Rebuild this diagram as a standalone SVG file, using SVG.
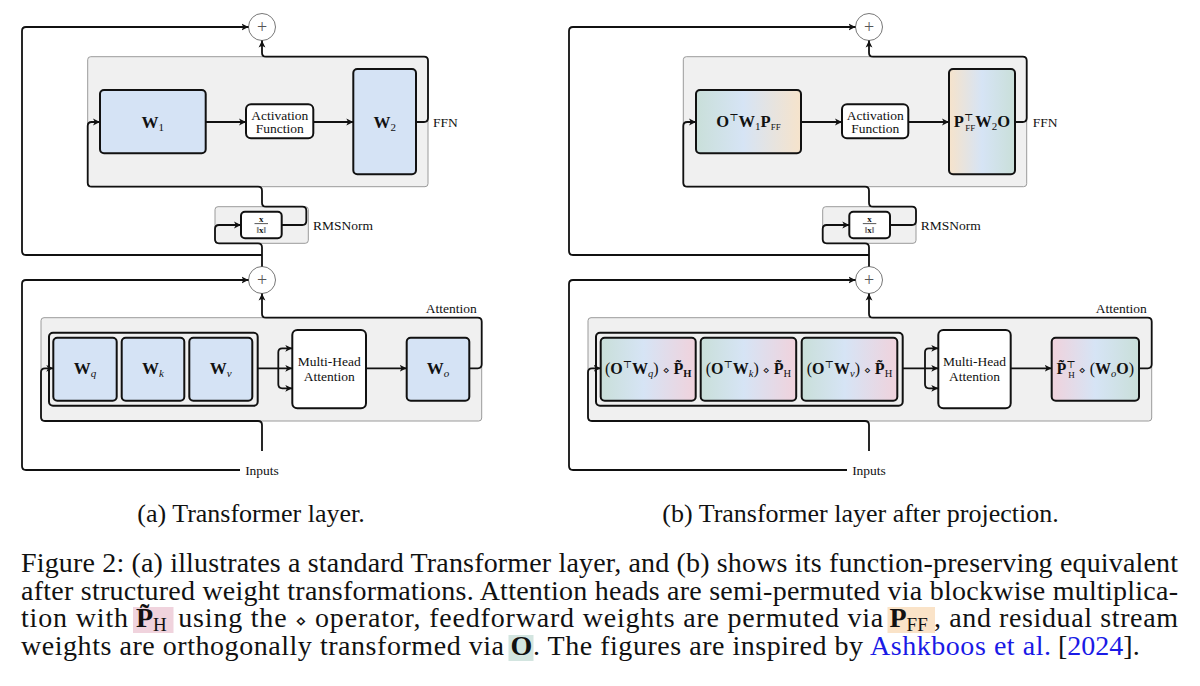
<svg xmlns="http://www.w3.org/2000/svg" width="1200" height="686" viewBox="0 0 1200 686">
<defs>
<style>
.grp{fill:#f0f0f0;stroke:#9a9a9a;stroke-width:1}
.node{stroke:#111;stroke-width:2}
.blue{fill:#d5e3f5}
.white{fill:#fff}
.inner{fill:none;stroke:#111;stroke-width:2}
.wire{fill:none;stroke:#111;stroke-width:1.8}
.arr{marker-end:url(#ah)}
.lbl{font-family:"Liberation Serif","DejaVu Serif",serif;font-size:13.5px;fill:#111}
.m{font-family:"Liberation Serif","DejaVu Serif",serif;fill:#111}
.b{font-weight:bold}
.i{font-style:italic}
.dm{font-family:"DejaVu Sans",sans-serif;font-weight:normal}
.plus{fill:#fff;stroke:#777;stroke-width:1}
.pt{font-family:"Liberation Serif","DejaVu Serif",serif;font-size:18px;fill:#555}
.cap{font-family:"Liberation Serif","DejaVu Serif",serif;font-size:28px;fill:#111}
.sub{font-family:"Liberation Serif","DejaVu Serif",serif;font-size:26px;fill:#111}
.link{fill:#1a1ae6}
</style>
<marker id="ah" markerUnits="userSpaceOnUse" markerWidth="10" markerHeight="10" refX="7" refY="4" orient="auto">
<path d="M0,0.6 L7,4 L0,7.4 L1.8,4 z" fill="#111"/>
</marker>
<linearGradient id="gFF1" x1="0" y1="0" x2="1" y2="0">
<stop offset="0" stop-color="#c9dfd9"/><stop offset="0.45" stop-color="#d6e4f5"/><stop offset="1" stop-color="#f6e3cb"/>
</linearGradient>
<linearGradient id="gFF2" x1="0" y1="0" x2="1" y2="0">
<stop offset="0" stop-color="#f6e3cb"/><stop offset="0.5" stop-color="#d6e4f5"/><stop offset="1" stop-color="#c9dfd9"/>
</linearGradient>
<linearGradient id="gQKV" x1="0" y1="0" x2="1" y2="0">
<stop offset="0" stop-color="#c9dfd9"/><stop offset="0.45" stop-color="#d6e4f5"/><stop offset="1" stop-color="#f0d2dc"/>
</linearGradient>
<linearGradient id="gO" x1="0" y1="0" x2="1" y2="0">
<stop offset="0" stop-color="#f0d2dc"/><stop offset="0.5" stop-color="#d6e4f5"/><stop offset="1" stop-color="#c9dfd9"/>
</linearGradient>
</defs>
<rect width="1200" height="686" fill="#fff"/>

<!-- ============ (a) ============ -->
<g id="ffn-a">
<rect class="grp" x="87.7" y="56.7" width="340.3" height="130" rx="3"/>
<text class="lbl" x="433" y="126.5">FFN</text>
</g>
<g id="w1-a">
<rect class="node blue" x="100" y="90" width="105.7" height="63.3" rx="4"/>
<text class="m b" x="152.8" y="127.5" text-anchor="middle" font-size="17">W<tspan font-size="11" font-weight="normal" dy="3">1</tspan></text>
</g>
<g id="act-a">
<rect class="node white" x="246" y="104.3" width="67.3" height="34" rx="5"/>
<text class="lbl" x="279.7" y="119.5" text-anchor="middle">Activation</text>
<text class="lbl" x="279.7" y="133" text-anchor="middle">Function</text>
</g>
<g id="w2-a">
<rect class="node blue" x="353.3" y="69" width="62.7" height="105.3" rx="4"/>
<text class="m b" x="384.7" y="127.5" text-anchor="middle" font-size="17">W<tspan font-size="11" font-weight="normal" dy="3">2</tspan></text>
</g>
<g id="rms-a">
<rect class="grp" x="215" y="206.7" width="93.3" height="36.6" rx="3"/>
<rect class="node white" x="241" y="211.7" width="40.7" height="26.6" rx="4"/>
<text class="m b" x="261.3" y="221.5" text-anchor="middle" font-size="9">x</text>
<line x1="254.5" y1="223.6" x2="268" y2="223.6" stroke="#111" stroke-width="0.7"/>
<text class="m" x="261.3" y="232.5" text-anchor="middle" font-size="9">‖<tspan font-weight="bold">x</tspan>‖</text>
<text class="lbl" x="313" y="229.5">RMSNorm</text>
</g>
<g id="att-a">
<rect class="grp" x="41" y="317.7" width="440.7" height="103.3" rx="3"/>
<text class="lbl" x="476.7" y="312.5" text-anchor="end">Attention</text>
<rect class="inner" x="49" y="332.7" width="208.7" height="73" rx="4"/>
</g>
<g id="wq-a">
<rect class="node blue" x="53.3" y="337.7" width="63.4" height="63" rx="4"/>
<text class="m b" x="85" y="374" text-anchor="middle" font-size="17">W<tspan class="i" font-size="11" font-weight="normal" dy="3">q</tspan></text>
</g>
<g id="wk-a">
<rect class="node blue" x="121.7" y="337.7" width="62.6" height="63" rx="4"/>
<text class="m b" x="153" y="374" text-anchor="middle" font-size="17">W<tspan class="i" font-size="11" font-weight="normal" dy="3">k</tspan></text>
</g>
<g id="wv-a">
<rect class="node blue" x="189.3" y="337.7" width="63" height="63" rx="4"/>
<text class="m b" x="220.8" y="374" text-anchor="middle" font-size="17">W<tspan class="i" font-size="11" font-weight="normal" dy="3">v</tspan></text>
</g>
<g id="mha-a">
<rect class="node white" x="292.3" y="330" width="73.7" height="78.3" rx="5"/>
<text class="lbl" x="329.2" y="366" text-anchor="middle">Multi-Head</text>
<text class="lbl" x="329.2" y="381" text-anchor="middle">Attention</text>
</g>
<g id="wo-a">
<rect class="node blue" x="406.7" y="337.7" width="62.6" height="63" rx="4"/>
<text class="m b" x="438" y="374" text-anchor="middle" font-size="17">W<tspan class="i" font-size="11" font-weight="normal" dy="3">o</tspan></text>
</g>
<g id="plus1-a">
<circle class="plus" cx="262" cy="27" r="13.5"/>
<text class="pt" x="262" y="33" text-anchor="middle">+</text>
</g>
<g id="plus2-a">
<circle class="plus" cx="262" cy="280" r="13.5"/>
<text class="pt" x="262" y="286" text-anchor="middle">+</text>
</g>
<g id="inputs-a">
<text class="lbl" x="262" y="474.5" text-anchor="middle">Inputs</text>
</g>
<text class="sub" x="251" y="521.7" text-anchor="middle">(a) Transformer layer.</text>

<!-- ============ (b) ============ -->
<g id="ffn-b">
<rect class="grp" x="683.3" y="56.7" width="343.4" height="130" rx="3"/>
<text class="lbl" x="1032.7" y="126.5">FFN</text>
</g>
<g id="w1-b">
<rect class="node" fill="url(#gFF1)" x="696" y="90" width="105" height="63.3" rx="4"/>
<text class="m" x="748.5" y="127" text-anchor="middle" font-size="16.5"><tspan class="b">O</tspan><tspan font-size="10" dy="-6.5">⊤</tspan><tspan class="b" dy="6.5">W</tspan><tspan font-size="11" dy="3">1</tspan><tspan class="b" dy="-3">P</tspan><tspan font-size="9" dy="3">FF</tspan></text>
</g>
<g id="act-b">
<rect class="node white" x="842" y="104.3" width="66.3" height="34" rx="5"/>
<text class="lbl" x="875.2" y="119.5" text-anchor="middle">Activation</text>
<text class="lbl" x="875.2" y="133" text-anchor="middle">Function</text>
</g>
<g id="w2-b">
<rect class="node" fill="url(#gFF2)" x="949" y="69" width="66" height="105.3" rx="4"/>
<text class="m" x="982" y="127" text-anchor="middle" font-size="16.5"><tspan class="b">P</tspan><tspan font-size="10" dy="-6.5">⊤</tspan><tspan font-size="9" dx="-8" dy="10">FF</tspan><tspan class="b" dy="-3.5">W</tspan><tspan font-size="11" dy="3">2</tspan><tspan class="b" dy="-3">O</tspan></text>
</g>
<g id="rms-b">
<rect class="grp" x="822.7" y="206.7" width="93.3" height="36.6" rx="3"/>
<rect class="node white" x="849.3" y="211.7" width="40.7" height="26.6" rx="4"/>
<text class="m b" x="869.6" y="221.5" text-anchor="middle" font-size="9">x</text>
<line x1="862.8" y1="223.6" x2="876.3" y2="223.6" stroke="#111" stroke-width="0.7"/>
<text class="m" x="869.6" y="232.5" text-anchor="middle" font-size="9">‖<tspan font-weight="bold">x</tspan>‖</text>
<text class="lbl" x="920.7" y="229.5">RMSNorm</text>
</g>
<g id="att-b">
<rect class="grp" x="588" y="317.7" width="563.7" height="103.3" rx="3"/>
<text class="lbl" x="1146.7" y="312.5" text-anchor="end">Attention</text>
<rect class="inner" x="596" y="332.7" width="306.7" height="73" rx="4"/>
</g>
<g id="wq-b">
<rect class="node" fill="url(#gQKV)" x="600.7" y="337.7" width="95" height="63" rx="4"/>
<text class="m" x="648.2" y="374" text-anchor="middle" font-size="16">(<tspan class="b">O</tspan><tspan font-size="10" dy="-6">⊤</tspan><tspan class="b" dy="6">W</tspan><tspan class="i" font-size="10.5" dy="3">q</tspan><tspan dy="-3">) </tspan><tspan class="dm" font-size="11">⋄</tspan> <tspan class="b">P̃</tspan><tspan class="b" font-size="10.5" dy="3">H</tspan></text>
</g>
<g id="wk-b">
<rect class="node" fill="url(#gQKV)" x="700.7" y="337.7" width="95.5" height="63" rx="4"/>
<text class="m" x="748.4" y="374" text-anchor="middle" font-size="16">(<tspan class="b">O</tspan><tspan font-size="10" dy="-6">⊤</tspan><tspan class="b" dy="6">W</tspan><tspan class="i" font-size="10.5" dy="3">k</tspan><tspan dy="-3">) </tspan><tspan class="dm" font-size="11">⋄</tspan> <tspan class="b">P̃</tspan><tspan font-size="10.5" dy="3">H</tspan></text>
</g>
<g id="wv-b">
<rect class="node" fill="url(#gQKV)" x="801.7" y="337.7" width="95.6" height="63" rx="4"/>
<text class="m" x="849.5" y="374" text-anchor="middle" font-size="16">(<tspan class="b">O</tspan><tspan font-size="10" dy="-6">⊤</tspan><tspan class="b" dy="6">W</tspan><tspan class="i" font-size="10.5" dy="3">v</tspan><tspan dy="-3">) </tspan><tspan class="dm" font-size="11">⋄</tspan> <tspan class="b">P̃</tspan><tspan font-size="10.5" dy="3">H</tspan></text>
</g>
<g id="mha-b">
<rect class="node white" x="938.3" y="330" width="72.4" height="78.3" rx="5"/>
<text class="lbl" x="974.5" y="366" text-anchor="middle">Multi-Head</text>
<text class="lbl" x="974.5" y="381" text-anchor="middle">Attention</text>
</g>
<g id="wo-b">
<rect class="node" fill="url(#gO)" x="1051.7" y="337.7" width="87.3" height="63" rx="4"/>
<text class="m" x="1095.3" y="374" text-anchor="middle" font-size="16"><tspan class="b">P̃</tspan><tspan font-size="10" dy="-6.5">⊤</tspan><tspan font-size="9" dx="-7.5" dy="10">H</tspan><tspan dy="-3.5"> </tspan><tspan class="dm" font-size="11">⋄</tspan> (<tspan class="b">W</tspan><tspan class="i" font-size="10.5" dy="3">o</tspan><tspan class="b" dy="-3">O</tspan>)</text>
</g>
<g id="plus1-b">
<circle class="plus" cx="869" cy="27" r="13.5"/>
<text class="pt" x="869" y="33" text-anchor="middle">+</text>
</g>
<g id="plus2-b">
<circle class="plus" cx="869" cy="280" r="13.5"/>
<text class="pt" x="869" y="286" text-anchor="middle">+</text>
</g>
<g id="inputs-b">
<text class="lbl" x="869" y="474.5" text-anchor="middle">Inputs</text>
</g>
<text class="sub" x="860.5" y="521.7" text-anchor="middle">(b) Transformer layer after projection.</text>

<!-- ============ connectors ============ -->
<g id="connectors">
<!-- (a) -->
<path class="wire arr" d="M262,255 H26 Q22,255 22,251 V31 Q22,27 26,27 H248.5"/>
<path class="wire arr" d="M262,266.5 V247.3 Q262,243.3 258,243.3 H219 Q215,243.3 215,239.3 V229 Q215,225 219,225 H241"/>
<path class="wire arr" d="M281.7,225 H302.3 Q306.3,225 306.3,221 V210.7 Q306.3,206.7 302.3,206.7 H266 Q262,206.7 262,202.7 V190.7 Q262,186.7 258,186.7 H91.7 Q87.7,186.7 87.7,182.7 V126 Q87.7,122 91.7,122 H100"/>
<path class="wire arr" d="M205.7,122 H246"/>
<path class="wire arr" d="M313.3,122 H353.3"/>
<path class="wire arr" d="M416,122 H424 Q428,122 428,118 V60.7 Q428,56.7 424,56.7 H266 Q262,56.7 262,52.7 V40.5"/>
<path class="wire arr" d="M240,470 H26 Q22,470 22,466 V284 Q22,280 26,280 H248.5"/>
<path class="wire arr" d="M262,451 V425 Q262,421 258,421 H45 Q41,421 41,417 V372.3 Q41,368.3 45,368.3 H53.3"/>
<path class="wire arr" d="M257.7,368.3 H292.3"/>
<path class="wire arr" d="M278.3,368.3 V352.3 Q278.3,348.3 282.3,348.3 H292.3"/>
<path class="wire arr" d="M278.3,368.3 V384.3 Q278.3,388.3 282.3,388.3 H292.3"/>
<path class="wire arr" d="M366,368.3 H406.7"/>
<path class="wire arr" d="M469.3,368.3 H477.7 Q481.7,368.3 481.7,364.3 V321.7 Q481.7,317.7 477.7,317.7 H266 Q262,317.7 262,313.7 V293.5"/>
<!-- (b) -->
<path class="wire arr" d="M869,255 H573 Q569,255 569,251 V31 Q569,27 573,27 H855.5"/>
<path class="wire arr" d="M869,266.5 V247.3 Q869,243.3 865,243.3 H826.7 Q822.7,243.3 822.7,239.3 V229 Q822.7,225 826.7,225 H849.3"/>
<path class="wire arr" d="M890,225 H912 Q916,225 916,221 V210.7 Q916,206.7 912,206.7 H873 Q869,206.7 869,202.7 V190.7 Q869,186.7 865,186.7 H687.3 Q683.3,186.7 683.3,182.7 V126 Q683.3,122 687.3,122 H696"/>
<path class="wire arr" d="M801,122 H842"/>
<path class="wire arr" d="M908.3,122 H949"/>
<path class="wire arr" d="M1015,122 H1022.7 Q1026.7,122 1026.7,118 V60.7 Q1026.7,56.7 1022.7,56.7 H873 Q869,56.7 869,52.7 V40.5"/>
<path class="wire arr" d="M847,470 H573 Q569,470 569,466 V284 Q569,280 573,280 H855.5"/>
<path class="wire arr" d="M869,451 V425 Q869,421 865,421 H592 Q588,421 588,417 V372.3 Q588,368.3 592,368.3 H600.7"/>
<path class="wire arr" d="M902.7,368.3 H938.3"/>
<path class="wire arr" d="M925,368.3 V352.3 Q925,348.3 929,348.3 H938.3"/>
<path class="wire arr" d="M925,368.3 V384.3 Q925,388.3 929,388.3 H938.3"/>
<path class="wire arr" d="M1010.7,368.3 H1051.7"/>
<path class="wire arr" d="M1139,368.3 H1147.7 Q1151.7,368.3 1151.7,364.3 V321.7 Q1151.7,317.7 1147.7,317.7 H873 Q869,317.7 869,313.7 V293.5"/>
</g>

<!-- ============ caption ============ -->
<g id="caption">
<text class="cap" x="21" y="572" textLength="1157" lengthAdjust="spacing">Figure 2: (a) illustrates a standard Transformer layer, and (b) shows its function-preserving equivalent</text>
<text class="cap" x="21" y="599.5" textLength="1157" lengthAdjust="spacing">after structured weight transformations. Attention heads are semi-permuted via blockwise multiplica-</text>
<rect x="133" y="607" width="40.5" height="26" fill="#f0d3dd"/>
<text class="cap" x="21" y="627" textLength="107" lengthAdjust="spacing">tion with</text>
<text class="cap" x="136" y="627"><tspan font-weight="bold">P̃</tspan><tspan font-size="19" dy="4">H</tspan></text>
<text class="cap" x="178.3" y="627" textLength="705" lengthAdjust="spacing">using the <tspan class="dm" font-size="18">⋄</tspan> operator, feedforward weights are permuted via</text>
<rect x="887.5" y="607" width="47.5" height="26" fill="#fae3c8"/>
<text class="cap" x="889.5" y="627"><tspan font-weight="bold">P</tspan><tspan font-size="19" dy="4">FF</tspan></text>
<text class="cap" x="934" y="627" textLength="244" lengthAdjust="spacing">, and residual stream</text>
<rect x="508.5" y="635" width="25" height="26" fill="#d3e5e0"/>
<text class="cap" x="21" y="654.5" textLength="483" lengthAdjust="spacing">weights are orthogonally transformed via</text>
<text class="cap" x="510.5" y="654.5" font-weight="bold">O</text>
<text class="cap" x="533" y="654.5" textLength="330" lengthAdjust="spacing">. The figures are inspired by</text>
<text class="cap link" x="870" y="654.5" textLength="181" lengthAdjust="spacing">Ashkboos et al.</text>
<text class="cap" x="1058" y="654.5">[<tspan class="link">2024</tspan>].</text>
</g>
</svg>
